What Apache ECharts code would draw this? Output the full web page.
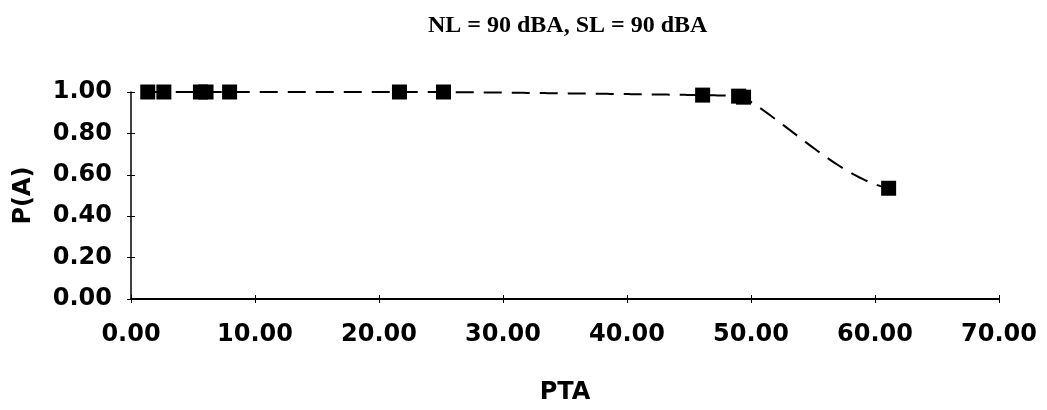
<!DOCTYPE html>
<html>
<head>
<meta charset="utf-8">
<script src="https://cdn.jsdelivr.net/npm/echarts@6/dist/echarts.min.js"></script>
<style>
html,body{margin:0;padding:0;background:#fff;}
#chart{width:1047px;height:410px;}
</style>
</head>
<body>
<div id="chart"></div>
<script>
// Data
const titleText = 'NL = 90 dBA, SL = 90 dBA';
const xTitle = 'PTA';
const yTitle = 'P(A)';
const ptaValues = [1.35, 2.65, 5.6, 6.05, 7.95, 21.65, 25.2, 46.1, 49.0, 49.4, 61.1];
const paValues  = [1.00, 1.00, 1.00, 1.00, 1.00, 1.00, 1.00, 0.985, 0.98, 0.975, 0.535];

const points = ptaValues.map((x, i) => [x, paValues[i]]);
const labelFont = {fontFamily: 'DejaVu Sans', fontWeight: 'bold', fontSize: 24, color: '#000'};

// Smoothed curve (Hermite in pixel space) through the data points, positioned via api.coord
function renderCurve(params, api) {
  if (params.dataIndex !== 0) return null;
  const px = points.map(p => api.coord(p));
  const n = px.length;
  const slope = (a, b) => (b[1] - a[1]) / Math.max(b[0] - a[0], 1e-6);
  const m = px.map((p, i) => {
    if (i === 0) return slope(px[0], px[1]);
    if (i === n - 1) return slope(px[n - 2], px[n - 1]) * 0.35;
    return slope(px[i - 1], px[i + 1]);
  });
  const out = [];
  for (let i = 0; i < n - 1; i++) {
    const p0 = px[i], p1 = px[i + 1];
    const dx = p1[0] - p0[0];
    const c1 = [p0[0] + dx / 3, p0[1] + m[i] * dx / 3];
    const c2 = [p1[0] - dx / 3, p1[1] - m[i + 1] * dx / 3];
    const steps = Math.max(2, Math.ceil(dx / 3));
    for (let s = (i === 0 ? 0 : 1); s <= steps; s++) {
      const t = s / steps, u = 1 - t;
      const x = u*u*u*p0[0] + 3*u*u*t*c1[0] + 3*u*t*t*c2[0] + t*t*t*p1[0];
      const y = u*u*u*p0[1] + 3*u*u*t*c1[1] + 3*u*t*t*c2[1] + t*t*t*p1[1];
      out.push([x, y]);
    }
  }
  return {
    type: 'polyline',
    shape: {points: out},
    style: {stroke: '#000', lineWidth: 2, fill: null, lineDash: [18, 10]}
  };
}

const chart = echarts.init(document.getElementById('chart'));
chart.setOption({
  animation: false,
  backgroundColor: '#fff',
  title: {
    text: titleText,
    left: 423,
    top: 9,
    textStyle: {fontFamily: 'Liberation Serif', fontWeight: 'bold', fontSize: 24, color: '#000'}
  },
  grid: {left: 131, right: 48, top: 92, bottom: 108},
  xAxis: [{
    type: 'value', min: 0, max: 70, interval: 10,
    name: xTitle, nameLocation: 'middle', nameGap: 82,
    nameTextStyle: labelFont,
    axisLine: {show: true, onZero: false, lineStyle: {color: '#000', width: 2}},
    axisTick: {show: true, length: 4, lineStyle: {color: '#000', width: 1}},
    axisLabel: Object.assign({margin: 24, formatter: v => v.toFixed(2)}, labelFont),
    splitLine: {show: false}
  }, {
    type: 'value', min: 0, max: 70, interval: 10, position: 'bottom',
    axisLine: {show: false},
    axisTick: {show: true, inside: true, length: 4, lineStyle: {color: '#000', width: 1}},
    axisLabel: {show: false}, splitLine: {show: false}
  }],
  yAxis: [{
    type: 'value', min: 0, max: 1, interval: 0.2,
    name: yTitle, nameLocation: 'middle', nameGap: 95, nameRotate: 90,
    nameTextStyle: labelFont,
    axisLine: {show: true, onZero: false, lineStyle: {color: '#000', width: 1.5}},
    axisTick: {show: true, length: 4, lineStyle: {color: '#000', width: 1}},
    axisLabel: Object.assign({margin: 19, formatter: v => v.toFixed(2)}, labelFont),
    splitLine: {show: false}
  }, {
    type: 'value', min: 0, max: 1, interval: 0.2, position: 'left',
    axisLine: {show: false},
    axisTick: {show: true, inside: true, length: 4, lineStyle: {color: '#000', width: 1}},
    axisLabel: {show: false}, splitLine: {show: false}
  }],
  series: [{
    type: 'custom',
    data: points,
    renderItem: renderCurve,
    z: 2,
    silent: true
  }, {
    type: 'scatter',
    data: points,
    symbol: 'rect',
    symbolSize: 15,
    itemStyle: {color: '#000', opacity: 1},
    z: 3
  }]
});
</script>
</body>
</html>
